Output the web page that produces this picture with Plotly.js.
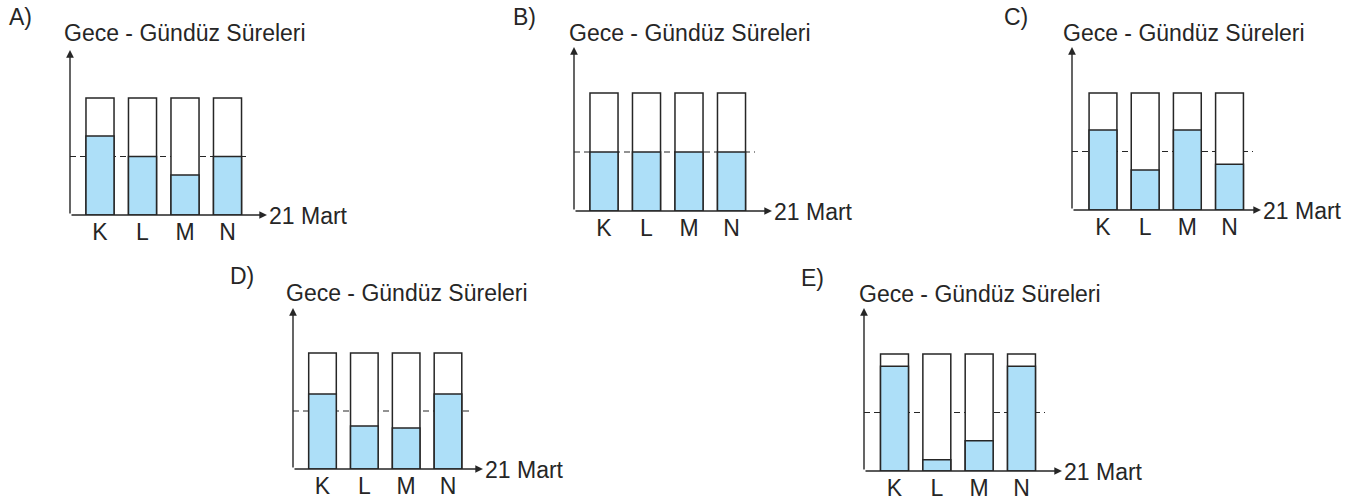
<!DOCTYPE html>
<html>
<head>
<meta charset="utf-8">
<script src="https://cdn.plot.ly/plotly-3.0.1.min.js"></script>
<style>html,body{margin:0;padding:0;background:#fff;}#chart{width:1357px;height:501px;}</style>
</head>
<body>
<div id="chart"></div>
<script>
// ---- data ----
const categories = ['K', 'L', 'M', 'N'];
const totalHours = [24, 24, 24, 24];
const dayA = [16.2, 12, 8.2, 12];
const dayB = [12, 12, 12, 12];
const dayC = [16.4, 8.2, 16.4, 9.4];
const dayD = [15.5, 8.9, 8.5, 15.5];
const dayE = [21.5, 2.3, 6.2, 21.5];
const panelLetters = ['A)', 'B)', 'C)', 'D)', 'E)'];
const axisTitle = 'Gece - Gündüz Süreleri';
const xLabel = '21 Mart';
const equinoxHours = 12;

// ---- layout geometry (pixels) ----
const W = 1357, H = 501;
const panels = [
  {day: dayA, ax: 70,   ay: 215, tipX: 267,  topY: 50,  c0: 100,   step: 42.5,  ppu: 4.875, dashEnd: 250,  lx: 7,   ly: 17,  tx: 63,   ty: 33},
  {day: dayB, ax: 574,  ay: 211, tipX: 772,  topY: 47,  c0: 604,   step: 42.5,  ppu: 4.917, dashEnd: 755,  lx: 511, ly: 17,  tx: 568,  ty: 33},
  {day: dayC, ax: 1072, ay: 210, tipX: 1261, topY: 47,  c0: 1103,  step: 42.17, ppu: 4.875, dashEnd: 1253, lx: 1002,ly: 17,  tx: 1062, ty: 33},
  {day: dayD, ax: 293,  ay: 469, tipX: 483,  topY: 308, c0: 322.5, step: 41.83, ppu: 4.833, dashEnd: 472,  lx: 228, ly: 276, tx: 285,  ty: 293},
  {day: dayE, ax: 864,  ay: 471, tipX: 1062, topY: 308, c0: 894.5, step: 42.33, ppu: 4.875, dashEnd: 1045, lx: 799, ly: 278, tx: 858,  ty: 294}
];

const ink = '#262626';
const blue = '#addff8';
const fontFam = 'Liberation Sans, Arial, sans-serif';

const traces = [];
const layout = {
  width: W, height: H, autosize: false,
  margin: {l: 0, r: 0, t: 0, b: 0},
  paper_bgcolor: '#fff', plot_bgcolor: 'rgba(0,0,0,0)',
  showlegend: false, barmode: 'overlay',
  font: {family: fontFam, color: ink},
  shapes: [], annotations: []
};

panels.forEach((p, i) => {
  const n = i === 0 ? '' : String(i + 1);
  const xa = 'x' + n, ya = 'y' + n;
  const xLeft = (p.ax - p.c0) / p.step;
  const xRight = (p.tipX - p.c0) / p.step;
  const yTop = (p.ay - p.topY) / p.ppu;

  traces.push({
    type: 'bar', x: categories, y: totalHours, xaxis: xa, yaxis: ya,
    width: 0.66, marker: {color: '#ffffff', line: {color: ink, width: 1.5}},
    hoverinfo: 'skip'
  });
  traces.push({
    type: 'bar', x: categories, y: p.day, xaxis: xa, yaxis: ya,
    width: 0.66, marker: {color: blue, line: {color: ink, width: 1.5}},
    hoverinfo: 'skip'
  });

  layout['xaxis' + n] = {
    domain: [p.ax / W, p.tipX / W], anchor: ya,
    range: [xLeft, xRight], type: 'category',
    showgrid: false, zeroline: false, showline: false, ticks: '',
    ticklabelstandoff: 1,
    tickfont: {size: 23, color: ink, family: fontFam}, fixedrange: true
  };
  layout['yaxis' + n] = {
    domain: [1 - p.ay / H, 1 - p.topY / H], anchor: xa,
    range: [0, yTop], showgrid: false, zeroline: false, showline: false,
    showticklabels: false, ticks: '', fixedrange: true
  };

  // dashed equinox reference line
  layout.shapes.push({
    type: 'line', layer: 'below', xref: xa, yref: ya,
    x0: xLeft, x1: (p.dashEnd - p.c0) / p.step, y0: equinoxHours, y1: equinoxHours,
    line: {color: ink, width: 1.2, dash: '6px,4px'}
  });

  // axis arrows
  layout.annotations.push({
    xref: xa, yref: ya, axref: xa, ayref: ya,
    x: xRight, y: 0, ax: xLeft, ay: 0, text: '',
    showarrow: true, arrowhead: 2, arrowsize: 1.1, arrowwidth: 1.4, arrowcolor: ink
  });
  layout.annotations.push({
    xref: xa, yref: ya, axref: xa, ayref: ya,
    x: xLeft, y: yTop, ax: xLeft, ay: 0, text: '',
    showarrow: true, arrowhead: 2, arrowsize: 1.1, arrowwidth: 1.4, arrowcolor: ink
  });

  // texts
  layout.annotations.push({
    xref: 'paper', yref: 'paper', x: (p.tipX + 0) / W, y: 1 - (p.ay + 1) / H,
    xanchor: 'left', yanchor: 'middle', text: xLabel, showarrow: false,
    font: {size: 23, color: ink, family: fontFam}
  });
  layout.annotations.push({
    xref: 'paper', yref: 'paper', x: (p.tx - 1) / W, y: 1 - p.ty / H,
    xanchor: 'left', yanchor: 'middle', text: axisTitle, showarrow: false,
    font: {size: 23, color: ink, family: fontFam}
  });
  layout.annotations.push({
    xref: 'paper', yref: 'paper', x: p.lx / W, y: 1 - p.ly / H,
    xanchor: 'left', yanchor: 'middle', text: panelLetters[i], showarrow: false,
    font: {size: 23, color: ink, family: fontFam}
  });
});

Plotly.newPlot('chart', traces, layout, {displayModeBar: false, staticPlot: true});
</script>
</body>
</html>
